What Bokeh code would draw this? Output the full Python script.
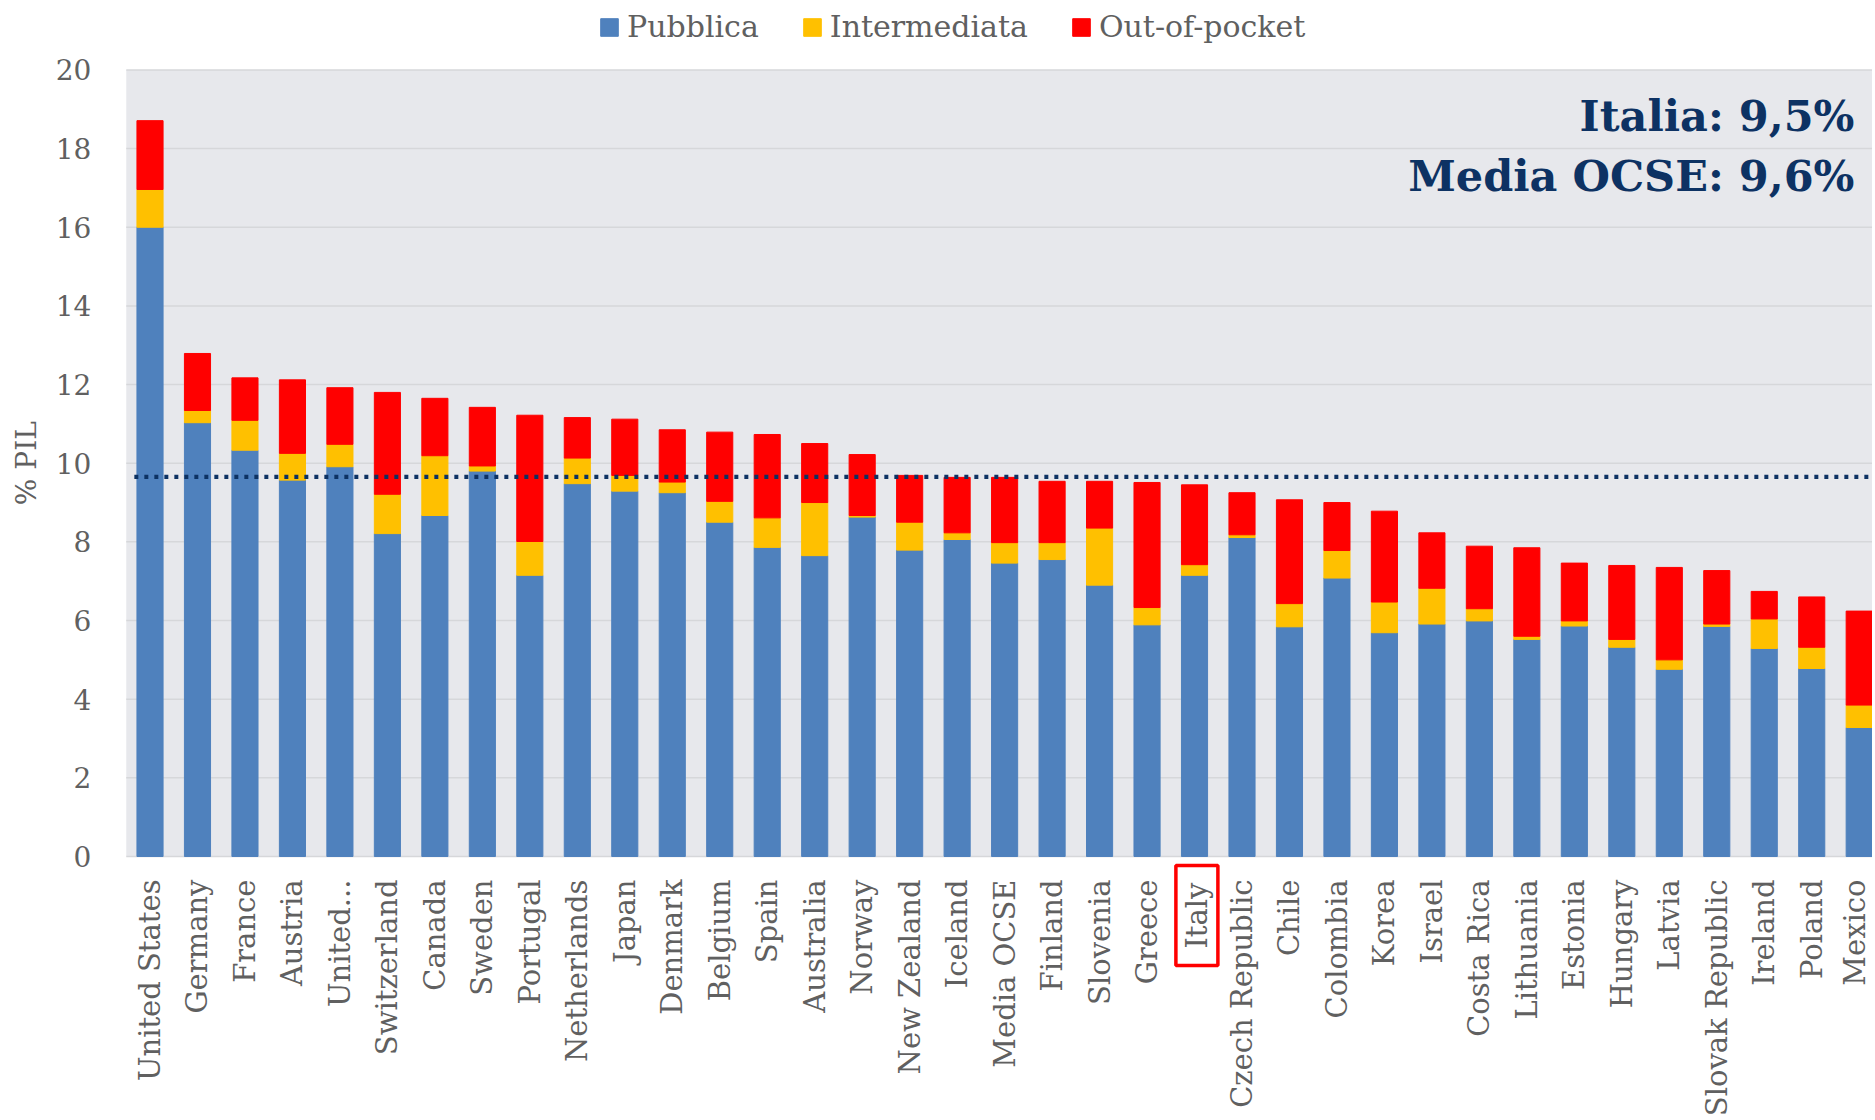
import math
from bokeh.plotting import figure
from bokeh.models import ColumnDataSource, FixedTicker, Legend, LegendItem, Label, Range1d
from bokeh.embed import file_html
from bokeh.resources import INLINE

countries = ["United States", "Germany", "France", "Austria", "United...", "Switzerland",
             "Canada", "Sweden", "Portugal", "Netherlands", "Japan", "Denmark", "Belgium",
             "Spain", "Australia", "Norway", "New Zealand", "Iceland", "Media OCSE",
             "Finland", "Slovenia", "Greece", "Italy", "Czech Republic", "Chile", "Colombia",
             "Korea", "Israel", "Costa Rica", "Lithuania", "Estonia", "Hungary", "Latvia",
             "Slovak Republic", "Ireland", "Poland", "Mexico"]

pubblica = [16.00, 11.03, 10.33, 9.57, 9.91, 8.21, 8.67, 9.80, 7.15, 9.48, 9.29, 9.25, 8.50,
            7.86, 7.65, 8.63, 7.79, 8.06, 7.46, 7.55, 6.90, 5.89, 7.15, 8.11, 5.84, 7.08,
            5.69, 5.91, 5.99, 5.52, 5.86, 5.32, 4.76, 5.85, 5.29, 4.78, 3.28]

intermediata = [0.96, 0.31, 0.76, 0.68, 0.57, 1.00, 1.52, 0.13, 0.86, 0.65, 0.40, 0.27, 0.53,
                0.75, 1.35, 0.04, 0.71, 0.17, 0.52, 0.43, 1.45, 0.44, 0.27, 0.07, 0.59, 0.70,
                0.78, 0.91, 0.31, 0.08, 0.13, 0.20, 0.24, 0.06, 0.75, 0.54, 0.57]

out_of_pocket = [1.75, 1.45, 1.08, 1.87, 1.44, 2.59, 1.46, 1.49, 3.21, 1.03, 1.43, 1.33, 1.76,
                 2.12, 1.50, 1.55, 1.19, 1.41, 1.66, 1.56, 1.19, 3.18, 2.03, 1.07, 2.64, 1.22,
                 2.31, 1.41, 1.59, 2.25, 1.47, 1.88, 2.35, 1.36, 0.70, 1.28, 2.39]

series_names = ["Pubblica", "Intermediata", "Out-of-pocket"]
colors = ["#4F81BD", "#FFC000", "#FF0000"]
y_ticks = [0, 2, 4, 6, 8, 10, 12, 14, 16, 18, 20]
oecd_avg = 9.65
highlight = "Italy"
notes = ["Italia: 9,5%", "Media OCSE: 9,6%"]
y_label = "% PIL"

FONT = "DejaVu Serif"
GREY = "#606060"
NAVY = "#0D3263"

n = len(countries)
xs = list(range(n))
y_min, y_max = y_ticks[0], y_ticks[-1]
plot_left = -0.5

src = ColumnDataSource(dict(x=xs, pubblica=pubblica, intermediata=intermediata,
                            oop=out_of_pocket))

W, H = 1872, 1116
p = figure(width=W, height=H, output_backend="svg", toolbar_location=None,
           x_range=Range1d(-3.149, 36.28), y_range=Range1d(-6.611, 21.765),
           min_border_left=0, min_border_right=0, min_border_top=0, min_border_bottom=0)
p.outline_line_color = None
p.background_fill_color = "white"
p.border_fill_color = "white"
p.xgrid.grid_line_color = None
p.ygrid.grid_line_color = None

# plot-area background and horizontal grid lines
p.quad(left=plot_left, right=n, bottom=y_min, top=y_max, fill_color="#E7E8EC",
       line_color=None, level="image")
p.segment(x0=[plot_left] * len(y_ticks), x1=[n] * len(y_ticks), y0=y_ticks, y1=y_ticks,
          line_color="#D6D7DA", line_width=1.5)

rs = p.vbar_stack(["pubblica", "intermediata", "oop"], x="x", width=0.55, source=src,
                  color=colors)

# OECD average dotted line
p.line(x=[xs[0] - 0.33, n], y=[oecd_avg, oecd_avg], line_color=NAVY,
       line_width=4.3, line_dash="4 6", line_cap="butt")

# axes (fixed inside the frame)
xa, ya = p.xaxis[0], p.yaxis[0]
xa.fixed_location = y_min
ya.fixed_location = plot_left
ya.ticker = FixedTicker(ticks=y_ticks)
xa.ticker = FixedTicker(ticks=xs)
xa.major_label_overrides = {i: ("" if c == highlight else c) for i, c in enumerate(countries)}
xa.major_label_orientation = math.pi / 2
for ax in (xa, ya):
    ax.axis_line_color = None
    ax.major_tick_line_color = None
    ax.minor_tick_line_color = None
    ax.major_tick_out = 0
    ax.major_tick_in = 0
    ax.major_label_text_font = FONT
    ax.major_label_text_color = GREY
xa.major_label_text_font_size = "29px"
ya.major_label_text_font_size = "28px"
xa.major_label_standoff = 23
ya.major_label_standoff = 35

p.add_layout(Label(x=-2.601, y=(y_min + y_max) / 2, text=y_label, angle=math.pi / 2,
                   text_align="center", text_baseline="middle", text_font=FONT,
                   text_font_size="28px", text_color=GREY))

# highlighted Italy label with red box
ix = countries.index(highlight)
p.add_layout(Label(x=xs[ix] + 0.05, y=-0.23, text=highlight,
                   angle=math.pi / 2, text_align="right", text_baseline="middle",
                   text_font=FONT, text_font_size="29px", text_color=GREY,
                   border_line_color="#FF0000", border_line_width=3.5,
                   padding=(17, 17, 4, 4)))

# annotation
for txt, yv in zip(notes, [18.84, 17.31]):
    p.add_layout(Label(x=35.9, y=yv, text=txt, text_align="right",
                       text_baseline="alphabetic", text_font=FONT, text_font_size="43px",
                       text_font_style="bold", text_color=NAVY))

legend = Legend(items=[LegendItem(label=nm, renderers=[r]) for nm, r in zip(series_names, rs)],
                orientation="horizontal", location=(598, H - 44))
legend.border_line_color = None
legend.background_fill_alpha = 0
legend.label_text_font = FONT
legend.label_text_font_size = "30px"
legend.label_text_color = GREY
legend.glyph_width = 22
legend.glyph_height = 22
legend.spacing = 42
legend.label_standoff = 7
legend.padding = 0
legend.margin = 0
p.add_layout(legend)

open("out.html", "w").write(file_html(p, INLINE))
